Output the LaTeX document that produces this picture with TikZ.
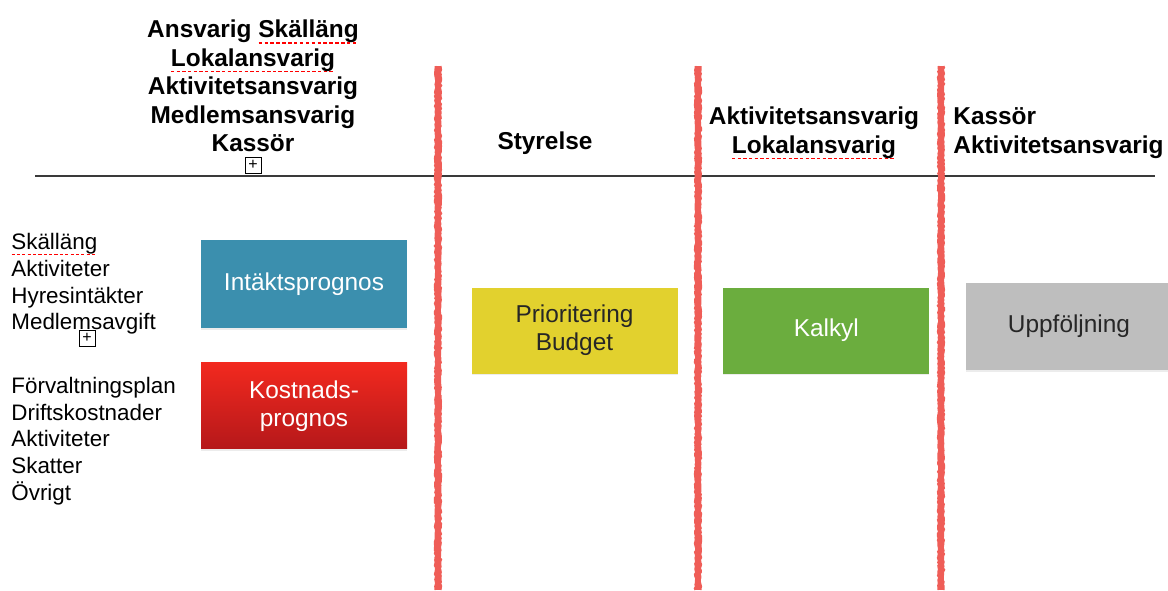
\documentclass[tikz,border=0pt]{standalone}
\usepackage{fontspec}
\setmainfont{Liberation Sans}
\usetikzlibrary{positioning,decorations.pathmorphing,shadows}

\definecolor{lanered}{HTML}{EF5D57}
\definecolor{rulegray}{HTML}{3A3A3A}
\definecolor{intaktblue}{HTML}{3B8FAE}
\definecolor{kostTop}{HTML}{F2291F}
\definecolor{kostBot}{HTML}{B5181A}
\definecolor{prioyellow}{HTML}{E2D12E}
\definecolor{kalkgreen}{HTML}{6BAD3E}
\definecolor{uppfgray}{HTML}{BEBEBE}

% red spelling marks under a word
\newcommand\stavfel[1]{\setbox0\hbox{#1}\rlap{\lower0.45ex\hbox to\wd0{\color{red}\xleaders\hbox{\rule{0.14em}{0.11ex}\kern0.09em}\hfil}}\box0}

\begin{document}
\begin{tikzpicture}
[
x=0.5pt, y=-0.5pt,
head/.style={font=\fontsize{12.2}{14.25}\selectfont\bfseries, align=center, inner sep=0pt},
list/.style={font=\fontsize{11.2}{13.35}\selectfont, align=left, inner sep=0pt, anchor=west},
card/.style={minimum width=103pt, minimum height=43pt, inner sep=0pt, align=center, font=\fontsize{12.2}{14}\selectfont, drop shadow={opacity=0.15, shadow xshift=0pt, shadow yshift=-0.9pt}},
lane/.style={draw=lanered, line width=2.6pt},
laneedge/.style={draw=lanered, line width=0.9pt, decorate, decoration={random steps, segment length=1pt, amplitude=0.35pt}},
plusbox/.style={draw, line width=0.5pt, minimum size=8pt, inner sep=0pt, font=\fontsize{8}{8}\selectfont}
]
\pgfmathsetseed{11}
\useasboundingbox[fill=white] (0,0) rectangle (1168,590);

%Headings
\node[head]     (hdrInit)   at (253,86)     {Ansvarig \stavfel{Skälläng}\\\stavfel{Lokalansvarig}\\Aktivitetsansvarig\\Medlemsansvarig\\Kassör};
\node[plusbox]  (plusHdr)   at (253,165)    {+};
\node[head]     (hdrStyr)   at (545,143)    {Styrelse};
\node[head]     (hdrKalk)   at (814,133)    {Aktivitetsansvarig\\\stavfel{Lokalansvarig}};
\node[head, align=left, anchor=west] (hdrUppf) at (953,133) {Kassör\\Aktivitetsansvarig};

%Lists
\node[list]     (intaktList) at (11,284)    {\stavfel{Skälläng}\\Aktiviteter\\Hyresintäkter\\Medlemsavgift};
\node[plusbox]  (plusList)  at (87,338)     {+};
\node[list]     (kostList)  at (11,441)     {Förvaltningsplan\\Driftskostnader\\Aktiviteter\\Skatter\\Övrigt};

%Cards
\node[card, fill=intaktblue, text=white, minimum height=44pt] (intakt) at (304,284) {Intäktsprognos};
\node[card, top color=kostTop, bottom color=kostBot, text=white] (kostnad) [below=17pt of intakt] {Kostnads-\\prognos};
\node[card, fill=prioyellow, text=black!85] (prio) at (574.5,330.5) {Prioritering\\Budget};
\node[card, fill=kalkgreen, text=white] (kalkyl) [right=22.5pt of prio] {Kalkyl};
\node[card, fill=uppfgray, text=black!85, minimum height=43.5pt] (uppf) at (1069,326.5) {Uppföljning};

%Lines
\coordinate (ruleL) at (35,176);
\coordinate (ruleR) at (1155,176);
\draw[rulegray, line width=0.6pt] (ruleL) -- (ruleR);
\foreach \lx in {438,698,941}{
  \draw[lane] (\lx,66) -- (\lx,590);
  \draw[laneedge] ([xshift=-1.3pt]\lx,66) -- ([xshift=-1.3pt]\lx,590);
  \draw[laneedge] ([xshift=1.3pt]\lx,66) -- ([xshift=1.3pt]\lx,590);
}

\end{tikzpicture}
\end{document}
